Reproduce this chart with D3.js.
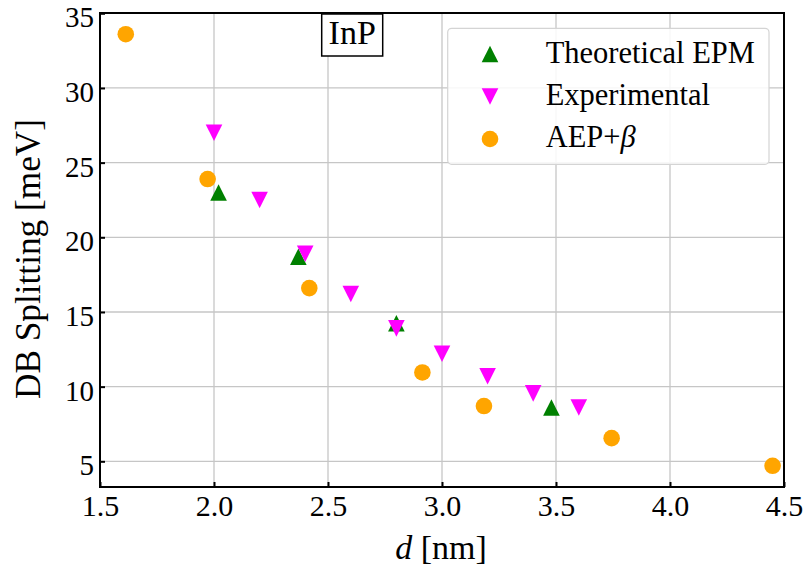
<!DOCTYPE html>
<html>
<head>
<meta charset="utf-8">
<script src="https://cdn.jsdelivr.net/npm/d3@7"></script>
<style>
  body { margin: 0; background: #fff; }
  text { font-family: "Liberation Serif", "DejaVu Serif", serif; fill: #000; }
</style>
</head>
<body>
<svg id="chart" width="806" height="567"></svg>
<script>
// Axis ticks
const xTicks = [1.5, 2.0, 2.5, 3.0, 3.5, 4.0, 4.5];
const yTicks = [5, 10, 15, 20, 25, 30, 35];

// Theoretical EPM (green, up triangles)
const epmD = [2.02, 2.37, 2.80, 3.48];
const epmSplit = [23.0, 18.7, 14.25, 8.6];

// Experimental (magenta, down triangles)
const expD = [2.0, 2.2, 2.4, 2.6, 2.8, 3.0, 3.2, 3.4, 3.6];
const expSplit = [27.0, 22.5, 18.9, 16.2, 13.9, 12.2, 10.7, 9.55, 8.6];

// AEP+beta (orange circles)
const aepD = [1.613, 1.972, 2.418, 2.914, 3.184, 3.744, 4.45];
const aepSplit = [33.6, 23.9, 16.6, 10.95, 8.7, 6.55, 4.7];

const seriesNames = ["Theoretical EPM", "Experimental", "AEP+"];

const svg = d3.select("#chart");
const W = 806, H = 567;
const plot = { left: 100, right: 784, top: 13, bottom: 487 };

svg.append("rect").attr("width", W).attr("height", H).attr("fill", "#fff");

const x = d3.scaleLinear().domain([1.5, 4.5]).range([plot.left, plot.right]);
const y = d3.scaleLinear().domain([3.28, 35.02]).range([plot.bottom, plot.top]);

const gridColor = "#c6c6c6";

// Grid lines
const grid = svg.append("g");
grid.selectAll("line.gx").data(xTicks).join("line")
  .attr("x1", d => x(d)).attr("x2", d => x(d))
  .attr("y1", plot.top).attr("y2", plot.bottom)
  .attr("stroke", gridColor).attr("stroke-width", 1.3);
grid.selectAll("line.gy").data(yTicks).join("line")
  .attr("x1", plot.left).attr("x2", plot.right)
  .attr("y1", d => y(d)).attr("y2", d => y(d))
  .attr("stroke", gridColor).attr("stroke-width", 1.3);

// Inward ticks with labels
const xAxis = d3.axisBottom(x).tickValues(xTicks).tickFormat(d3.format(".1f"))
  .tickSizeInner(-5).tickSizeOuter(0).tickPadding(0);
const gx = svg.append("g").attr("transform", `translate(0,${plot.bottom})`).call(xAxis);
gx.select(".domain").remove();
gx.selectAll(".tick line").attr("stroke", "#000").attr("stroke-width", 2);
gx.selectAll(".tick text")
  .attr("y", 29).attr("dy", null)
  .attr("font-size", 30).attr("font-family", "Liberation Serif");

const yAxis = d3.axisLeft(y).tickValues(yTicks).tickFormat(d3.format("d"))
  .tickSizeInner(-5).tickSizeOuter(0).tickPadding(0);
const gy = svg.append("g").attr("transform", `translate(${plot.left},0)`).call(yAxis);
gy.select(".domain").remove();
gy.selectAll(".tick line").attr("stroke", "#000").attr("stroke-width", 2);
gy.selectAll(".tick text")
  .attr("x", -6).attr("dy", 13.5)
  .attr("font-size", 29).attr("font-family", "Liberation Serif");

// Marker shapes
const MS = 16.6;
function triUp(cx, cy, s) {
  return `M${cx},${cy - s / 2}L${cx + s / 2},${cy + s / 2}L${cx - s / 2},${cy + s / 2}Z`;
}
function triDown(cx, cy, s) {
  return `M${cx},${cy + s / 2}L${cx + s / 2},${cy - s / 2}L${cx - s / 2},${cy - s / 2}Z`;
}

const marks = svg.append("g");
marks.selectAll("path.epm").data(epmD.map((d, i) => [d, epmSplit[i]])).join("path")
  .attr("d", p => triUp(x(p[0]), y(p[1]), MS))
  .attr("fill", "green");
marks.selectAll("path.exp").data(expD.map((d, i) => [d, expSplit[i]])).join("path")
  .attr("d", p => triDown(x(p[0]), y(p[1]), MS))
  .attr("fill", "magenta");
marks.selectAll("circle.aep").data(aepD.map((d, i) => [d, aepSplit[i]])).join("circle")
  .attr("cx", p => x(p[0])).attr("cy", p => y(p[1])).attr("r", MS / 2)
  .attr("fill", "orange");

// Frame
svg.append("rect")
  .attr("x", plot.left).attr("y", plot.top)
  .attr("width", plot.right - plot.left).attr("height", plot.bottom - plot.top)
  .attr("fill", "none").attr("stroke", "#000").attr("stroke-width", 2);

// Material label box
svg.append("rect").attr("x", 321.7).attr("y", 14).attr("width", 61).attr("height", 42)
  .attr("fill", "#fff").attr("stroke", "#000").attr("stroke-width", 1.5);
svg.append("text").attr("x", 352.2).attr("y", 44).attr("text-anchor", "middle")
  .attr("font-size", 34).text("InP");

// Legend
const lg = svg.append("g");
lg.append("rect").attr("x", 447.7).attr("y", 28.3).attr("width", 321.3).attr("height", 136)
  .attr("rx", 4).attr("fill", "#fff").attr("fill-opacity", 0.85)
  .attr("stroke", "#d4d4d4").attr("stroke-width", 1.2);
const legendRows = [
  { name: seriesNames[0], color: "green", shape: "up", cy: 54, base: 62.5 },
  { name: seriesNames[1], color: "magenta", shape: "down", cy: 96.5, base: 104.5 },
  { name: seriesNames[2], color: "orange", shape: "circle", cy: 139, base: 146.7 }
];
legendRows.forEach(r => {
  if (r.shape === "circle") {
    lg.append("circle").attr("cx", 490).attr("cy", r.cy).attr("r", MS / 2).attr("fill", r.color);
  } else {
    lg.append("path").attr("d", (r.shape === "up" ? triUp : triDown)(490, r.cy, MS)).attr("fill", r.color);
  }
  const t = lg.append("text").attr("x", 545.7).attr("y", r.base).attr("font-size", 30.5).text(r.name);
  if (r.shape === "circle") t.append("tspan").attr("font-style", "italic").text("β");
});

// Axis titles
const xl = svg.append("text").attr("x", 441).attr("y", 559).attr("text-anchor", "middle").attr("font-size", 34);
xl.append("tspan").attr("font-style", "italic").text("d");
xl.append("tspan").text(" [nm]");

svg.append("text")
  .attr("transform", "translate(40,259) rotate(-90)")
  .attr("text-anchor", "middle").attr("font-size", 36)
  .attr("textLength", 280).attr("lengthAdjust", "spacingAndGlyphs")
  .text("DB Splitting [meV]");
</script>
</body>
</html>
